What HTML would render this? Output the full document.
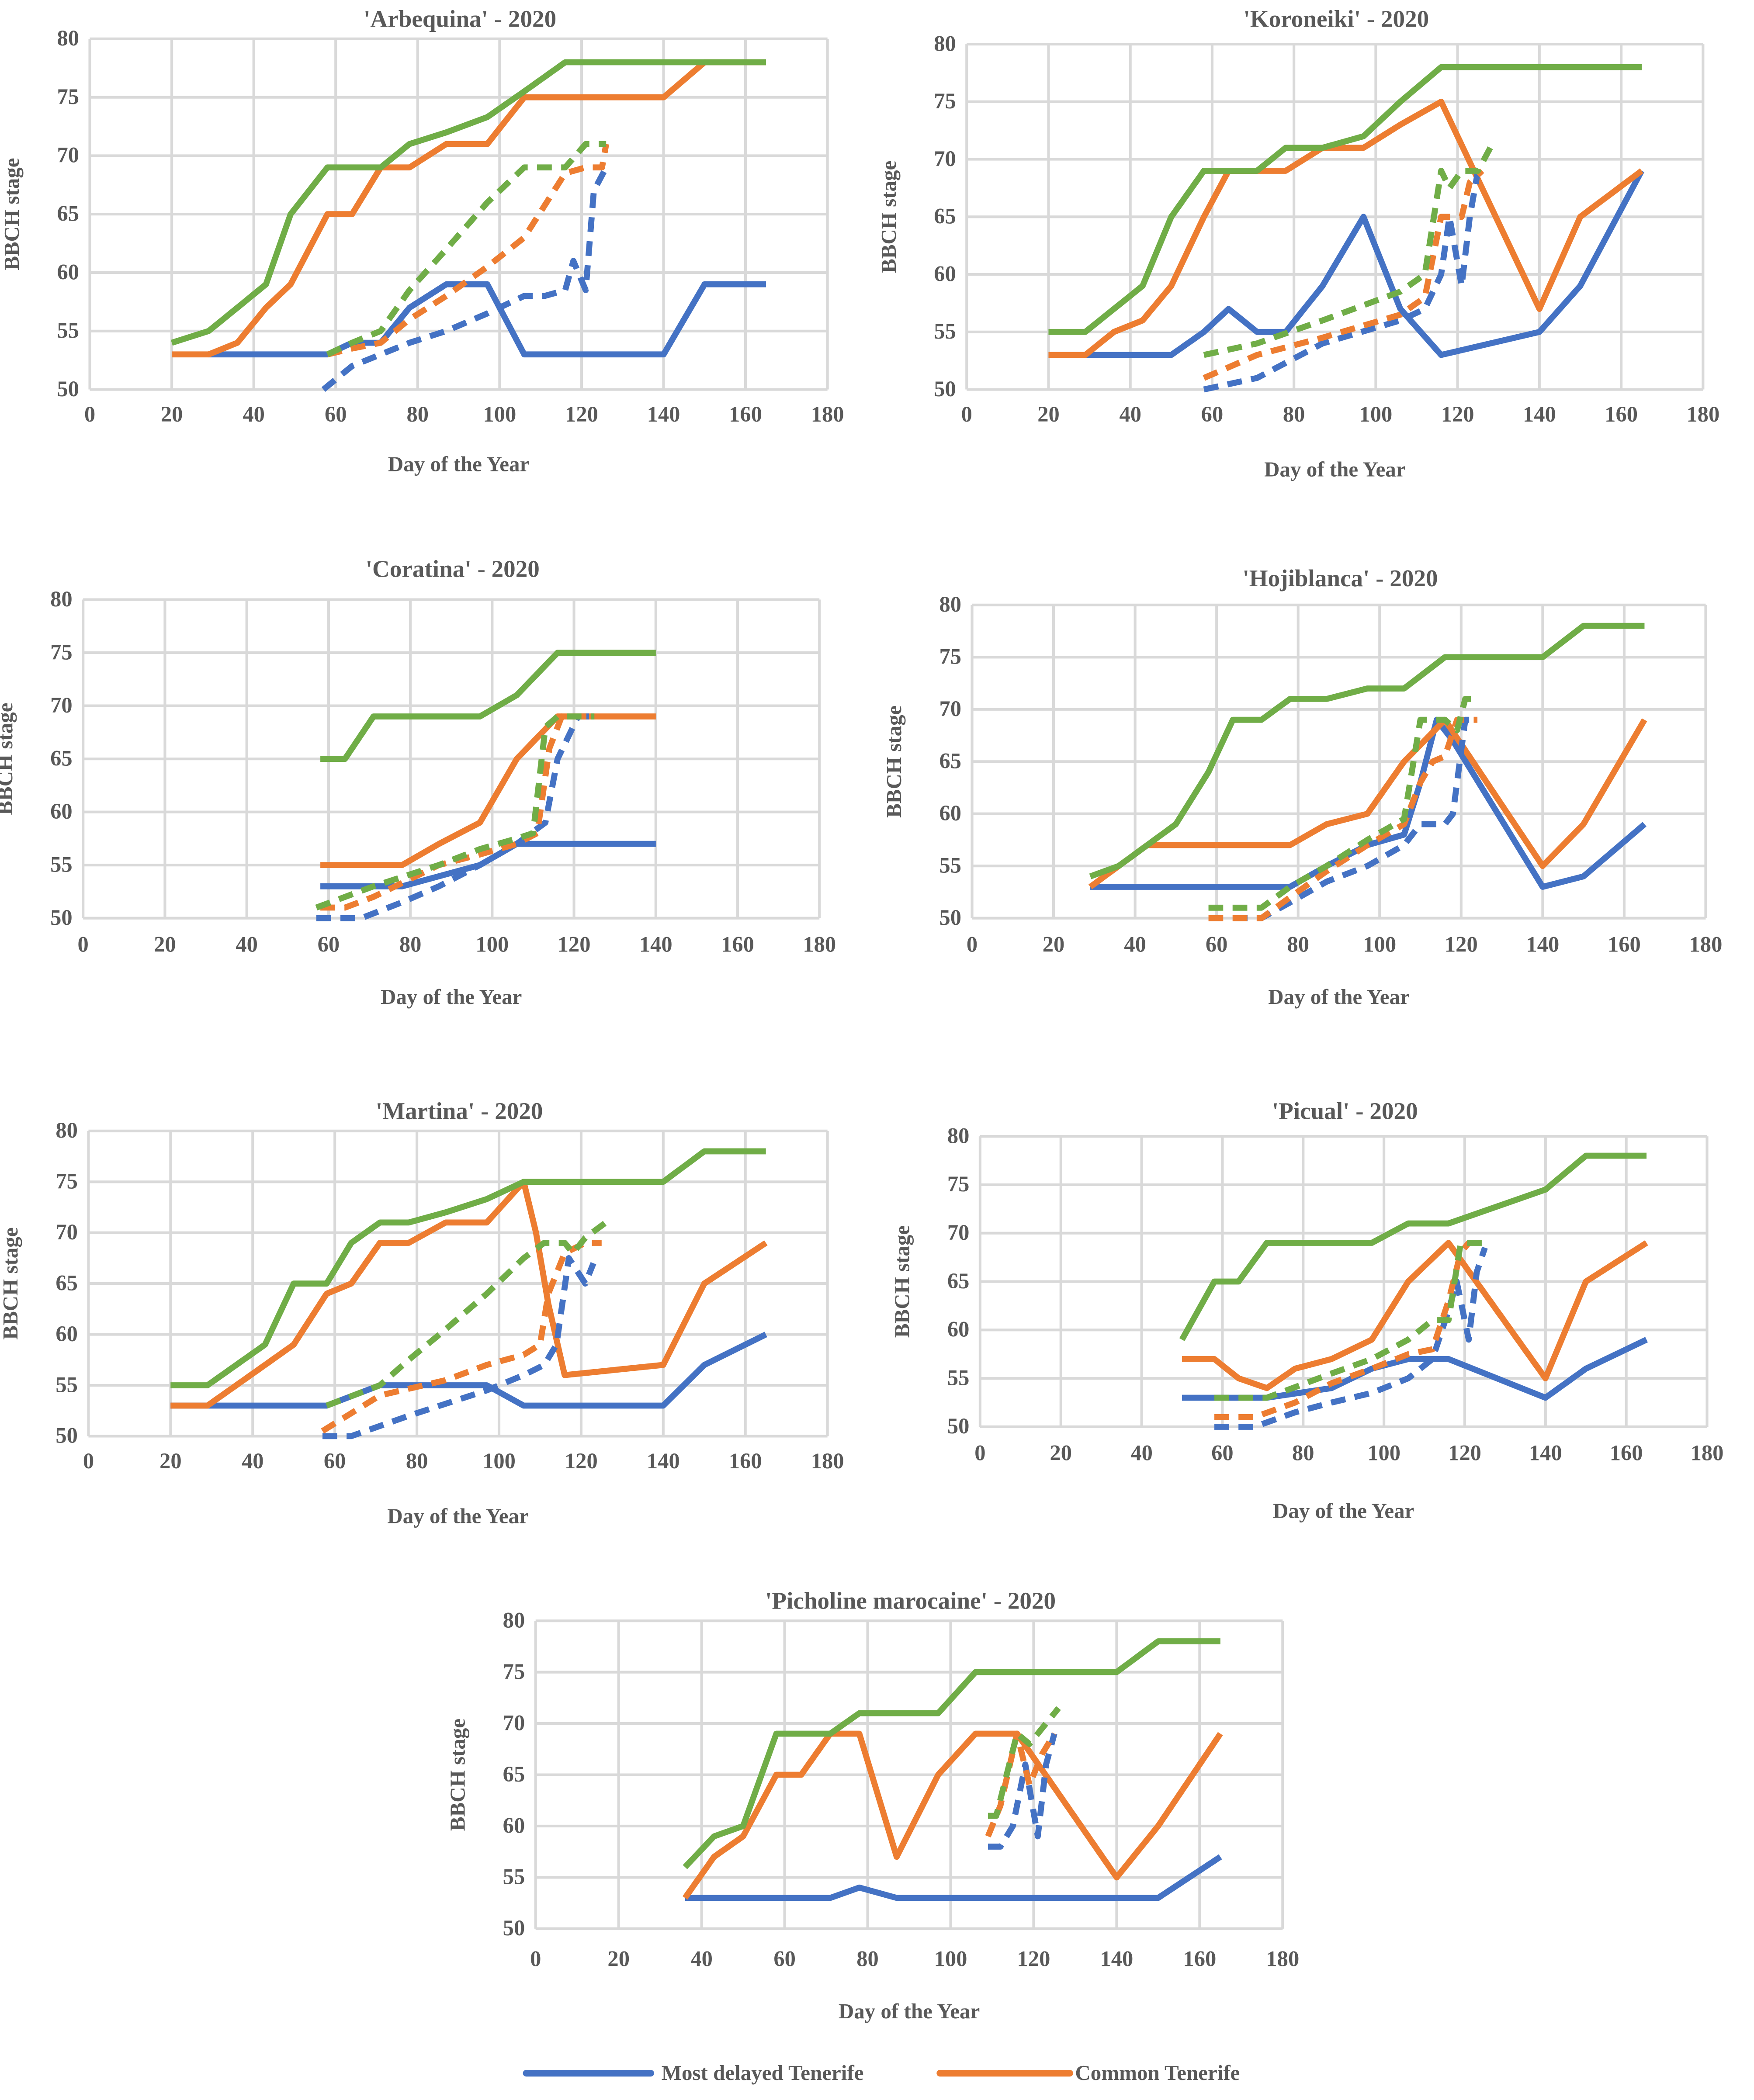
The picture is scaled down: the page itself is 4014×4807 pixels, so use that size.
<!DOCTYPE html>
<html><head><meta charset="utf-8"><style>
html,body{margin:0;padding:0;background:#fff;}
svg{display:block;}
text{font-family:"Liberation Serif",serif;fill:#595959;}
</style></head><body>
<svg id="fig" width="4014" height="4807" viewBox="0 0 1310 1569" xmlns="http://www.w3.org/2000/svg"></svg>
<script>
// ---- data (day of year, BBCH stage) ----
const arbBlue=[[29,53],[58,53],[64,54],[71,54],[78,57],[87,59],[97,59],[106,53],[140,53],[150,59],[165,59]];
const arbOrange=[[20,53],[29,53],[36,54],[43,57],[49,59],[58,65],[64,65],[71,69],[78,69],[87,71],[97,71],[106,75],[140,75],[150,78],[165,78]];
const arbGreen=[[20,54],[29,55],[36,57],[43,59],[49,65],[58,69],[71,69],[78,71],[87,72],[97,73.3],[106,75.5],[116,78],[165,78]];
const arbBlueD=[[57,50],[64,52],[71,53],[78,54],[87,55],[97,56.5],[106,58],[111,58],[116,58.5],[118,61],[121,58.5],[123,67],[126,69]];
const arbOrangeD=[[58,53],[64,53.5],[71,54],[78,56],[87,58],[97,60.5],[106,63],[116,68.5],[121,69],[125,69],[126,71]];
const arbGreenD=[[58,53],[64,54],[71,55],[78,58.5],[87,62],[97,66],[106,69],[116,69],[121,71],[126,71]];

const korBlue=[[20,53],[50,53],[58,55],[64,57],[71,55],[78,55],[87,59],[97,65],[106,57],[116,53],[140,55],[150,59],[165,69]];
const korOrange=[[20,53],[29,53],[36,55],[43,56],[50,59],[58,65],[64,69],[78,69],[87,71],[97,71],[106,73],[116,75],[140,57],[150,65],[165,69]];
const korGreen=[[20,55],[29,55],[36,57],[43,59],[50,65],[58,69],[71,69],[78,71],[87,71],[97,72],[106,75],[116,78],[165,78]];
const korBlueD=[[58,50],[71,51],[87,54],[106,56],[112,57],[116,60],[118,65],[121,59],[123,65],[125,69]];
const korOrangeD=[[58,51],[71,53],[87,54.5],[106,56.5],[112,58],[116,65],[121,65],[123,68],[126,69]];
const korGreenD=[[58,53],[71,54],[87,56],[106,58.5],[112,60],[116,69],[118,67.5],[121,69],[125,69],[128,71]];

const corBlue=[[58,53],[78,53],[97,55],[106,57],[140,57]];
const corOrange=[[58,55],[78,55],[87,57],[97,59],[106,65],[116,69],[140,69]];
const corGreen=[[58,65],[64,65],[71,69],[97,69],[106,71],[116,75],[140,75]];
const corBlueD=[[57,50],[68,50],[78,51.5],[87,53],[97,55],[106,57],[113,59],[116,65],[121,69],[125,69]];
const corOrangeD=[[58,51],[64,51],[71,52],[87,55],[97,56],[106,57],[111,58],[114,66],[117,69],[125,69]];
const corGreenD=[[57,51],[71,53],[87,55],[97,56.5],[106,57.5],[110,58],[113,68],[116,69],[125,69]];

const hojBlue=[[29,53],[78,53],[87,55],[97,57],[106,58],[110,63],[114,69],[118,67],[140,53],[150,54],[165,59]];
const hojOrange=[[29,53],[43,57],[78,57],[87,59],[97,60],[106,65],[116,69],[140,55],[150,59],[165,69]];
const hojGreen=[[29,54],[36,55],[43,57],[50,59],[58,64],[64,69],[71,69],[78,71],[87,71],[97,72],[106,72],[116,75],[140,75],[150,78],[165,78]];
const hojBlueD=[[64,50],[71,50],[78,51.5],[87,53.5],[97,55],[106,57],[110,59],[116,59],[118,60],[121,69],[124,69]];
const hojOrangeD=[[58,50],[71,50],[78,52],[87,54.5],[97,57],[106,59],[110,63],[113,65],[116,65.5],[119,69],[124,69]];
const hojGreenD=[[58,51],[71,51],[78,53],[87,55],[97,57.5],[106,59.5],[110,69],[116,69],[119,68],[121,71],[124,71]];

const marBlue=[[20,53],[58,53],[71,55],[97,55],[106,53],[140,53],[150,57],[165,60]];
const marOrange=[[20,53],[29,53],[36,55],[43,57],[50,59],[58,64],[64,65],[71,69],[78,69],[87,71],[97,71],[106,75],[109,70],[112,63],[116,56],[140,57],[150,65],[165,69]];
const marGreen=[[20,55],[29,55],[36,57],[43,59],[50,65],[58,65],[64,69],[71,71],[78,71],[87,72],[97,73.3],[106,75],[140,75],[150,78],[165,78]];
const marBlueD=[[57,50],[64,50],[78,52],[97,54.5],[106,56],[111,57],[114,59],[117,67.5],[121,65],[123,67]];
const marOrangeD=[[57,50.5],[71,54],[87,55.5],[97,57],[106,58],[110,59],[112,64],[116,68],[121,69],[125,69]];
const marGreenD=[[58,53],[71,55],[78,57.5],[87,60.5],[97,64],[106,67.5],[111,69],[116,69],[118,68],[121,69.5],[126,71]];

const picBlue=[[50,53],[71,53],[87,54],[97,56],[106,57],[116,57],[140,53],[150,56],[165,59]];
const picOrange=[[50,57],[58,57],[64,55],[71,54],[78,56],[87,57],[97,59],[106,65],[116,69],[140,55],[150,65],[165,69]];
const picGreen=[[50,59],[58,65],[64,65],[71,69],[97,69],[106,71],[116,71],[140,74.5],[150,78],[165,78]];
const picBlueD=[[58,50],[68,50],[78,51.5],[87,52.5],[97,53.5],[106,55],[112,57],[116,62],[118,65],[121,59],[123,66],[125,68.5]];
const picOrangeD=[[58,51],[68,51],[78,52.5],[87,54.5],[97,56],[106,57.5],[112,58],[116,63],[119,68],[121,69]];
const picGreenD=[[58,53],[71,53],[87,55.5],[97,57],[106,59],[112,61],[116,61],[119,69],[125,69]];

const pmaBlue=[[36,53],[71,53],[78,54],[87,53],[150,53],[165,57]];
const pmaOrange=[[36,53],[43,57],[50,59],[58,65],[64,65],[71,69],[78,69],[87,57],[97,65],[106,69],[116,69],[140,55],[150,60],[165,69]];
const pmaGreen=[[36,56],[43,59],[50,60],[58,69],[71,69],[78,71],[97,71],[106,75],[140,75],[150,78],[165,78]];
const pmaBlueD=[[109,58],[112,58],[115,60],[118,66],[121,59],[123,66],[125,69]];
const pmaOrangeD=[[109,59],[112,62],[116,69],[119,64],[122,67],[125,69]];
const pmaGreenD=[[109,61],[111,61],[116,69],[119,68],[121,69],[126,71.5]];

const xTicks=[0,20,40,60,80,100,120,140,160,180];
const yTicks=[50,55,60,65,70,75,80];
const chartTitles=["'Arbequina' - 2020","'Koroneiki' - 2020","'Coratina' - 2020","'Hojiblanca' - 2020","'Martina' - 2020","'Picual' - 2020","'Picholine marocaine' - 2020"];
const chartData=[
 [arbBlue,arbOrange,arbGreen,arbBlueD,arbOrangeD,arbGreenD],
 [korBlue,korOrange,korGreen,korBlueD,korOrangeD,korGreenD],
 [corBlue,corOrange,corGreen,corBlueD,corOrangeD,corGreenD],
 [hojBlue,hojOrange,hojGreen,hojBlueD,hojOrangeD,hojGreenD],
 [marBlue,marOrange,marGreen,marBlueD,marOrangeD,marGreenD],
 [picBlue,picOrange,picGreen,picBlueD,picOrangeD,picGreenD],
 [pmaBlue,pmaOrange,pmaGreen,pmaBlueD,pmaOrangeD,pmaGreenD]];
const seriesNames=["most-delayed-tenerife","common-tenerife","earliest-tenerife","most-delayed-dashed","common-dashed","earliest-dashed"];

// ---- layout ----
const layout=[
 {x0:67,x1:618,yt:29,yb:291,ty:20,lx:315,tx:352},
 {x0:722,x1:1272,yt:33,yb:291,ty:20,lx:315,tx:356},
 {x0:62,x1:612,yt:448,yb:686,ty:431,lx:711,tx:750},
 {x0:726,x1:1274,yt:452,yb:686,ty:438,lx:711,tx:750},
 {x0:66,x1:618,yt:845,yb:1073,ty:836,lx:1097,tx:1138},
 {x0:732,x1:1275,yt:849,yb:1066,ty:836,lx:1091,tx:1134},
 {x0:400,x1:958,yt:1211,yb:1441,ty:1202,lx:1469,tx:1508}];
const colors=["#4472c4","#ed7d31","#70ad47","#4472c4","#ed7d31","#70ad47"];
const NS="http://www.w3.org/2000/svg";
const svg=document.getElementById('fig');
function mk(tag,attrs,parent){const e=document.createElementNS(NS,tag);for(const k in attrs)e.setAttribute(k,attrs[k]);parent.appendChild(e);return e;}

chartData.forEach((series,ci)=>{
 const L=layout[ci];
 const xs=d=>L.x0+(d-0)/180*(L.x1-L.x0);
 const ys=v=>L.yb-(v-50)/30*(L.yb-L.yt);
 const g=mk('g',{},svg);
 
 
 xTicks.forEach(t=>{
  const l=mk('line',{x1:xs(t),x2:xs(t),y1:ys(80),y2:ys(50),stroke:'#d9d9d9','stroke-width':2},g);
  
  
  const tx=mk('text',{x:xs(t),y:L.lx,'text-anchor':'middle','font-size':16.5,'font-weight':'bold'},g);
  tx.textContent=t;
  
  
 });
 yTicks.forEach(t=>{
  const l=mk('line',{x1:xs(0),x2:xs(180),y1:ys(t),y2:ys(t),stroke:'#d9d9d9','stroke-width':2},g);
  
  
  const tx=mk('text',{x:xs(0)-8,y:ys(t)+5,'text-anchor':'end','font-size':16.5,'font-weight':'bold'},g);
  tx.textContent=t;
  
  
 });
 const ti=mk('text',{x:(L.x0+L.x1)/2+1,y:L.ty,'text-anchor':'middle','font-size':18,'font-weight':'bold'},g);
 ti.textContent=chartTitles[ci];
 
 
 const xt=mk('text',{x:(L.x0+L.x1)/2,y:L.tx,'text-anchor':'middle','font-size':16,'font-weight':'bold'},g);
 xt.textContent='Day of the Year';
 
 
 const cy=(L.yt+L.yb)/2, cx=L.x0-53;
 const yt=mk('text',{x:cx,y:cy,'text-anchor':'middle','font-size':16,'font-weight':'bold',transform:'rotate(-90 '+cx+' '+cy+')'},g);
 yt.textContent='BBCH stage';
 
 
 series.forEach((pts,si)=>{
  const d=pts.map((p,i)=>(i?'L':'M')+xs(p[0]).toFixed(1)+' '+ys(p[1]).toFixed(1)).join(' ');
  const attrs={d:d,fill:'none',stroke:colors[si],'stroke-width':4.5,'stroke-linejoin':'round'};
  if(si>=3){attrs['stroke-dasharray']='11 7';}
  const p=mk('path',attrs,g);
  
  
 });
});
// legend
const lg=mk('g',{},svg);


[[393,486,494,'Most delayed Tenerife','#4472c4'],[702,799,803,'Common Tenerife','#ed7d31']].forEach(e=>{
 const l=mk('line',{x1:e[0],x2:e[1],y1:1549,y2:1549,stroke:e[4],'stroke-width':5,'stroke-linecap':'round'},lg);
 
 
 const t=mk('text',{x:e[2],y:1554,'font-size':16,'font-weight':'bold'},lg);
 t.textContent=e[3];
 
 
});
</script>
</body></html>
